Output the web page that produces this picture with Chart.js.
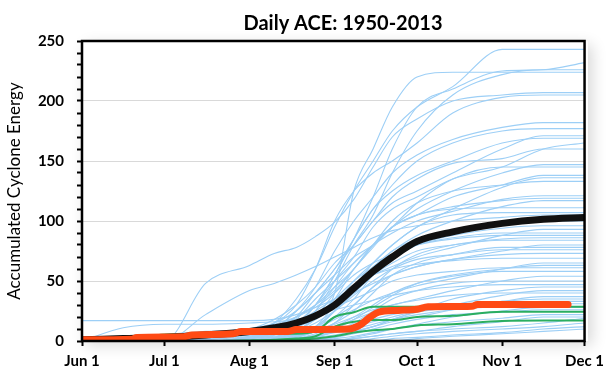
<!DOCTYPE html>
<html><head><meta charset="utf-8">
<script src="https://cdn.jsdelivr.net/npm/chart.js@4.4.1/dist/chart.umd.min.js"></script>
<style>
html,body{margin:0;padding:0;background:#fff;width:610px;height:379px;overflow:hidden}
#wrap{position:relative;width:610px;height:379px;background:#fff}
#shadow{position:absolute;left:82px;top:41px;width:506px;height:300px;background:#fff;box-shadow:4px 4px 14px rgba(0,0,0,0.16)}
canvas{position:absolute;left:0;top:0}
</style></head>
<body><div id="wrap"><div id="shadow"></div><canvas id="c" width="610" height="379"></canvas></div>
<script>
// ---- data ----
const chartTitle = 'Daily ACE: 1950-2013';
const yTitle = 'Accumulated Cyclone Energy';
const xTickDays = [0, 30, 61, 92, 122, 153, 183];
const xTickLabels = ['Jun 1', 'Jul 1', 'Aug 1', 'Sep 1', 'Oct 1', 'Nov 1', 'Dec 1'];
const yLabelValues = [0, 50, 100, 150, 200, 250];
const yMinorValues = [0,10,20,30,40,50,60,70,80,90,100,110,120,130,140,150,160,170,180,190,200,210,220,230,240,250];

// days since Jun 1 at which the yearly curves are read
const gridDays = [0, 15, 30, 45, 61, 70, 78, 85, 92, 99, 106, 113, 122, 135, 153, 168, 183];

const averageAce = [1,2,3,5,8,11,15,21,30,44,58,70,83,91,98,101.5,103];

const orangeDays = [0,18,20,37,40,55,58,75,78,97,101,105,108,115,122,126,142,144,177];
const orangeAce  = [1,1.5,3,3.5,5,6,8,8,9.5,10,13,20,24,25.5,26.5,28.5,29,30.5,30.5];

const greenA = [0,0,5.5,5.8,6,6,6,8,20,24,28.5,28.5,28.5,28.6,28.6,28.6,28.6];
const greenB = [0,0,0,0,0.5,1,2,4,12,16,17.5,17.5,20,21,24.4,24.4,24.4];
const greenC = [0,0,0,0,0,0.5,1,2,4,7,9,10,13,14,16.7,17,17];

const blueHigh = [
  [0,0,0,1,6,15,35,60,95,125,150,175,195,212,243,243,243],
  [0,0,0,0,2,5,12,30,55,85,120,160,195,210,225,226,232],
  [0,0,0,0,0,3,10,25,50,80,105,140,175,205,222,226,226],
  [0,0,0,0,0,2,8,20,40,125,160,195,220,224,224,224,224],
  [0,0,0,48,63,73,78,87,99,118,145,170,185,200,205,207,207],
  [0,0,2,4,8,15,30,60,100,125,140,150,165,190,203,205,205],
  [0,0,0,0,3,10,25,45,75,100,120,140,155,168,178,182,182],
  [0,0,0,1,4,8,20,40,60,85,110,130,150,165,175,177,177],
  [0,3,5,6,10,18,30,45,65,80,100,115,125,140,160,171,171],
  [0,0,0,0,0,5,15,30,55,85,110,125,138,150,165,169,169],
  [0,0,0,0,2,6,14,30,50,70,95,110,120,135,145,160,165],
  [0,0,0,2,5,10,25,40,60,80,100,120,135,148,152,160,160],
  [0,0,0,0,0,2,8,18,35,60,80,95,110,125,140,147,147],
  [0,0,5,8,10,15,25,40,55,70,80,95,115,135,145,145,145],
  [0,0,0,0,2,5,10,25,45,65,80,95,105,120,130,138,138],
  [0,0,0,0,0,0,5,12,30,50,65,80,95,110,128,136,136],
  [0,0,1,3,6,12,20,30,45,60,80,100,115,125,130,133,133]
];
const blueMid = [
  [0,0,0,0,3,8,18,35,50,65,80,90,100,108,118,121,121],
  [0,0,0,0,4,10,20,30,42,60,78,95,105,112,117,119,119],
  [0,0,0,2,5,8,12,20,35,50,62,75,88,100,112,117,117],
  [0,0,0,0,0,2,8,20,40,60,80,95,105,110,111,111,111],
  [0,0,0,0,1,3,6,12,25,45,65,80,95,105,107,107,107],
  [0,0,0,22,42,48,55,62,70,78,86,92,96,100,103,105,105],
  [0,0,0,0,0,0,3,10,25,45,60,75,85,92,97,100,100],
  [0,0,2,3,5,8,12,18,28,40,55,68,80,88,94,96,96],
  [0,0,0,0,2,8,15,25,35,45,55,62,70,78,88,93,93],
  [0,0,0,0,0,0,4,10,20,35,55,70,80,86,90,90,90],
  [0,0,0,4,9,14,20,28,40,55,65,72,80,85,88,88,88],
  [0,0,0,0,0,1,3,8,15,30,45,60,72,80,85,86,86],
  [0,0,0,0,0,2,5,12,25,40,55,65,75,80,84,84,84],
  [0,0,0,0,3,6,12,20,30,40,48,55,62,68,75,80,80],
  [0,0,0,0,0,0,3,8,15,25,40,55,65,72,78,78,78],
  [0,0,0,0,2,4,8,15,25,38,50,60,68,72,76,76,76],
  [0,0,0,0,0,3,6,12,20,30,45,55,62,68,72,73,73],
  [17,17,17,17,17,18,22,28,35,45,55,60,64,67,69,69,69],
  [0,0,0,0,0,2,5,10,18,26,34,40,46,52,60,65,65],
  [0,0,0,0,0,0,0,4,10,18,28,38,48,55,60,63,63],
  [0,0,3,5,8,10,14,20,28,35,42,50,55,58,61,61,61]
];
const blueLow = [
  [0,0,0,0,0,0,2,6,12,20,30,40,48,54,58,58,58],
  [0,0,0,0,0,2,4,8,14,20,26,30,35,42,50,54,54],
  [0,0,0,0,0,0,0,3,8,15,25,35,42,48,50,50,50],
  [0,11,14,14,15,16,18,22,26,30,34,38,42,45,47,47,47],
  [0,0,0,0,0,0,2,3,5,8,12,18,25,35,42,45,45],
  [0,0,0,0,0,0,2,5,8,12,16,20,25,30,38,42,42],
  [0,0,0,0,1,3,5,8,12,18,24,30,34,38,40,40,40],
  [0,0,0,0,0,0,0,2,4,8,12,16,20,26,33,37,37],
  [0,0,0,0,0,0,2,4,8,12,18,22,26,30,33,35,35],
  [0,0,0,0,0,0,0,0,3,7,12,18,24,28,31,33,33],
  [0,0,0,0,0,1,2,4,7,10,14,18,22,26,29,31,31],
  [0,0,0,0,0,0,0,0,0,3,6,10,14,20,25,28,28],
  [0,0,0,0,0,0,0,1,3,6,10,14,18,22,24,26,26],
  [0,0,0,0,0,0,0,0,2,4,7,10,13,16,19,22,22],
  [0,0,0,0,0,0,0,0,1,2,4,6,8,12,16,20,20],
  [0,0,0,0,0,0,0,0,0,2,4,6,8,10,12,15,19],
  [0,0,0,0,0,0,0,0,0,0,2,4,6,8,10,12,15],
  [0,0,0,0,0,0,0,0,0,0,0,2,3,5,7,10,12],
  [0,0,0,0,0,0,0,0,0,0,0,0,2,4,6,8,10]
];

// ---- styles ----
const BLUE = '#9DCFF6', GREEN = '#2BAE60', ORANGE = '#FF4A14', BLACK = '#111111';
const FONT = 'Lato, "Open Sans", sans-serif';

function pts(days, vals){ return vals.map((v,i)=>({x:days[i], y:v})); }

const datasets = [];
datasets.push({data: pts(orangeDays, orangeAce), borderColor: ORANGE, borderWidth: 7, order: 0, borderCapStyle:'round'});
datasets.push({data: pts(gridDays, averageAce), borderColor: BLACK, borderWidth: 7, order: 1});
[greenA, greenB, greenC].forEach(g => datasets.push({data: pts(gridDays, g), borderColor: GREEN, borderWidth: 2, order: 2}));
[...blueHigh, ...blueMid, ...blueLow].forEach(b => datasets.push({data: pts(gridDays, b), borderColor: BLUE, borderWidth: 1.1, order: 3}));
datasets.forEach(d => { d.pointRadius = 0; d.fill = false; d.cubicInterpolationMode = 'monotone'; });

const frame = {
  id: 'frame',
  afterDatasetsDraw(chart){
    const {ctx, chartArea: a} = chart;
    ctx.save();
    ctx.strokeStyle = '#000'; ctx.lineWidth = 2.5;
    ctx.strokeRect(a.left, a.top, a.right - a.left, a.bottom - a.top);
    ctx.restore();
  },
  afterDraw(chart){
    const ctx = chart.ctx;
    ctx.save();
    ctx.font = 'bold 20px ' + FONT;
    ctx.fillStyle = '#000'; ctx.textAlign = 'center'; ctx.textBaseline = 'middle';
    ctx.fillText(chartTitle, 343, 24);
    ctx.restore();
  }
};

new Chart(document.getElementById('c'), {
  type: 'line',
  data: { datasets },
  options: {
    responsive: false, animation: false, devicePixelRatio: 1,
    layout: { padding: { left: 0, right: 22, top: 41, bottom: 0 } },
    plugins: { legend: {display:false}, tooltip: {enabled:false}, title: {display:false} },
    scales: {
      x: {
        type: 'linear', min: 0, max: 183,
        afterBuildTicks: ax => { ax.ticks = xTickDays.map(v => ({value: v})); },
        afterFit: s => { s.height = 38; },
        ticks: { autoSkip:false, maxRotation:0, padding: 6, color:'#000',
          font: {family: FONT, size: 15, weight: 'bold'},
          callback: v => { const i = xTickDays.indexOf(v); return i >= 0 ? xTickLabels[i] : ''; } },
        grid: { drawOnChartArea: false, drawTicks: true, tickLength: 5, tickColor: '#000', tickWidth: 2 },
        border: { display: false }
      },
      y: {
        min: 0, max: 250,
        afterBuildTicks: ax => { ax.ticks = yMinorValues.map(v => ({value: v})); },
        afterFit: s => { s.width = 82; },
        ticks: { autoSkip:false, padding: 13, color:'#000',
          font: {family: FONT, size: 15, weight: 'bold'},
          callback: v => yLabelValues.includes(v) ? String(v) : '' },
        grid: { drawTicks: true, tickLength: 5, tickColor: '#000', tickWidth: 2,
          color: c => (c.tick && c.tick.value % 50 === 0 && c.tick.value > 0 && c.tick.value < 250) ? '#D9D9D9' : 'rgba(0,0,0,0)' },
        border: { display: false },
        title: { display: true, text: yTitle, color:'#000', font: {family: FONT, size: 17}, padding: {top: 4, bottom: 0} }
      }
    }
  },
  plugins: [frame]
});
</script>
</body></html>
